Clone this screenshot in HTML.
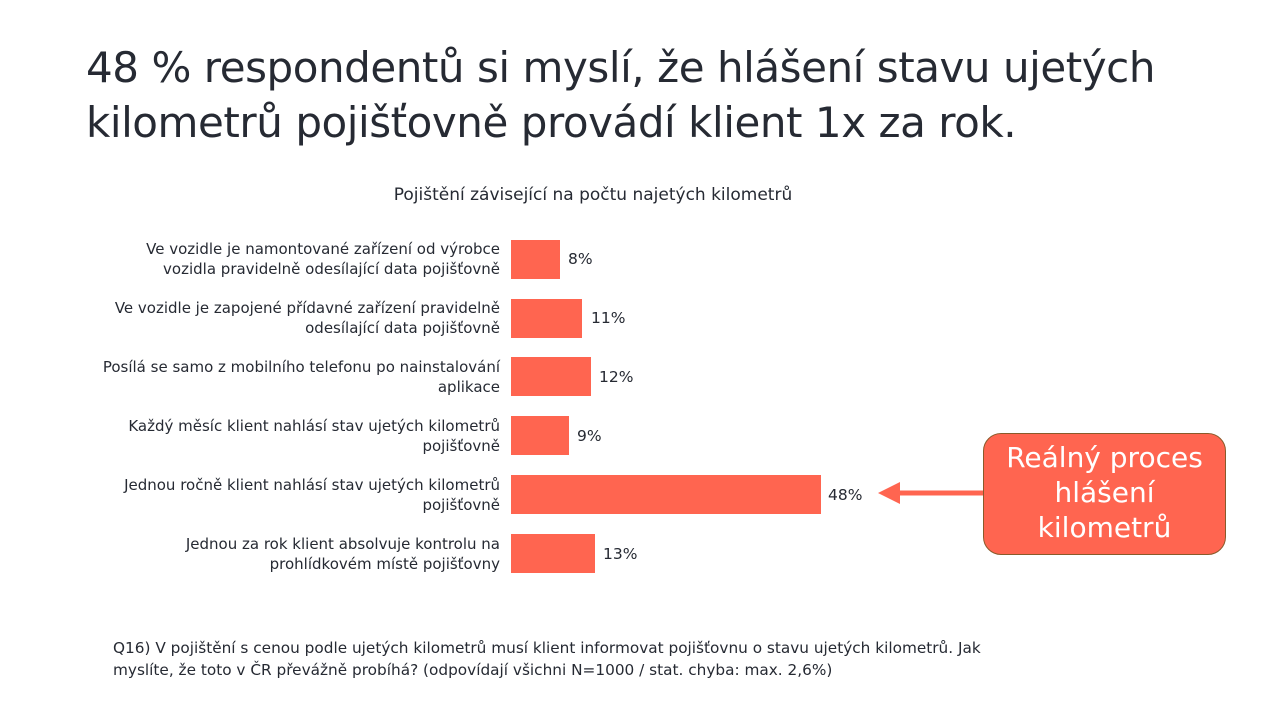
<!DOCTYPE html>
<html><head><meta charset="utf-8"><style>
body{margin:0;width:1280px;height:720px;background:#fff;position:relative;overflow:hidden;font-family:"DejaVu Sans","Liberation Sans",sans-serif;color:#262a33}
.t{position:absolute;left:86px;top:40px;font-size:42px;line-height:55px;letter-spacing:-0.45px;color:#262a33;white-space:nowrap}
.st{position:absolute;left:0;width:1186px;text-align:center;top:185px;font-size:17px}
.lab{position:absolute;right:780px;width:410px;text-align:right;font-size:15px;line-height:20px}
.bar{position:absolute;left:511px;height:39px;background:#ff6550}
.v{position:absolute;font-size:15.5px}
.q{position:absolute;left:113px;top:637px;font-size:15.3px;line-height:22px;width:900px}
.box{position:absolute;left:983px;top:433px;width:243px;height:122px;background:#ff6550;border:1px solid #8a5a2a;border-radius:18px;color:#fff;font-size:28px;line-height:35px;text-align:center;box-sizing:border-box;padding-top:6px}
</style></head><body>
<div class="t">48 % respondentů si myslí, že hlášení stavu ujetých<br>kilometrů pojišťovně provádí klient 1x za rok.</div>
<div class="st">Pojištění závisející na počtu najetých kilometrů</div>

<div class="lab" style="top:239px">Ve vozidle je namontované zařízení od výrobce<br>vozidla pravidelně odesílající data pojišťovně</div>
<div class="bar" style="top:240px;width:49px"></div><div class="v" style="left:568px;top:250px">8%</div>

<div class="lab" style="top:298px">Ve vozidle je zapojené přídavné zařízení pravidelně<br>odesílající data pojišťovně</div>
<div class="bar" style="top:299px;width:71px"></div><div class="v" style="left:591px;top:309px">11%</div>

<div class="lab" style="top:357px">Posílá se samo z mobilního telefonu po nainstalování<br>aplikace</div>
<div class="bar" style="top:357px;width:80px"></div><div class="v" style="left:599px;top:368px">12%</div>

<div class="lab" style="top:416px">Každý měsíc klient nahlásí stav ujetých kilometrů<br>pojišťovně</div>
<div class="bar" style="top:416px;width:58px"></div><div class="v" style="left:577px;top:427px">9%</div>

<div class="lab" style="top:475px">Jednou ročně klient nahlásí stav ujetých kilometrů<br>pojišťovně</div>
<div class="bar" style="top:475px;width:310px"></div><div class="v" style="left:828px;top:486px">48%</div>

<div class="lab" style="top:534px">Jednou za rok klient absolvuje kontrolu na<br>prohlídkovém místě pojišťovny</div>
<div class="bar" style="top:534px;width:84px"></div><div class="v" style="left:603px;top:545px">13%</div>

<svg style="position:absolute;left:0;top:0" width="1280" height="720"><line x1="983" y1="493" x2="895" y2="493" stroke="#ff6550" stroke-width="5"/><polygon points="878,493 900,482 900,504" fill="#ff6550"/></svg>
<div class="box">Reálný proces<br>hlášení<br>kilometrů</div>

<div class="q">Q16) V pojištění s cenou podle ujetých kilometrů musí klient informovat pojišťovnu o stavu ujetých kilometrů. Jak<br>myslíte, že toto v ČR převážně probíhá? (odpovídají všichni N=1000 / stat. chyba: max. 2,6%)</div>
</body></html>
